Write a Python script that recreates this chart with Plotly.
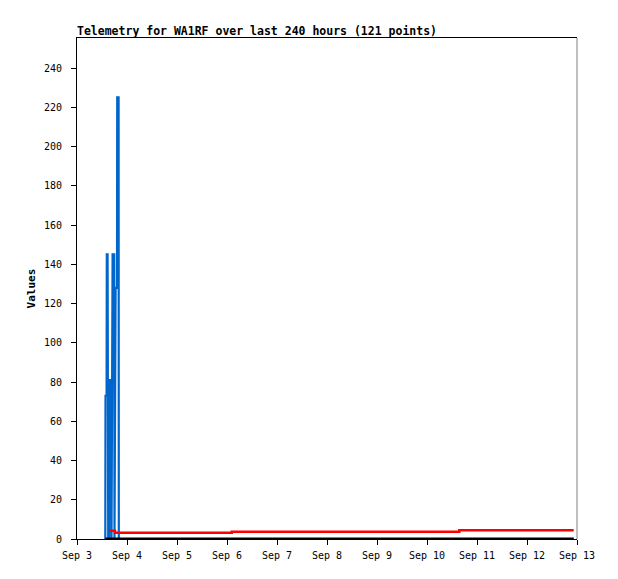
import plotly.graph_objects as go

# Blue series (spikes)
blue_times = ["2024-09-03 13:35", "2024-09-03 13:41", "2024-09-03 14:12", "2024-09-03 14:18",
              "2024-09-03 14:41", "2024-09-03 14:47", "2024-09-03 14:59", "2024-09-03 15:27",
              "2024-09-03 15:39", "2024-09-03 16:02", "2024-09-03 16:08", "2024-09-03 16:13",
              "2024-09-03 16:25", "2024-09-03 16:34", "2024-09-03 17:05", "2024-09-03 17:51",
              "2024-09-03 18:00", "2024-09-03 18:32", "2024-09-03 19:12", "2024-09-03 19:18",
              "2024-09-03 19:58", "2024-09-03 20:04", "2024-09-12 22:24"]
blue_values = [0, 73, 73, 145,
               145, 49, 0, 0,
               81, 81, 11, 72,
               72, 0, 145, 145,
               0, 128, 128, 225,
               225, 0, 0]

# Red series (steps)
red_times = ["2024-09-03 15:22", "2024-09-03 18:14", "2024-09-06 02:18",
             "2024-09-10 15:30", "2024-09-12 22:24"]
red_values = [4.2, 3.2, 3.7, 4.4, 4.4]

# Black series (near zero)
black_times = ["2024-09-03 13:40", "2024-09-12 22:24"]
black_values = [0.3, 0.3]

x_tick_vals = ["2024-09-%02d" % d for d in range(3, 14)]
x_tick_text = ["Sep %d" % d for d in range(3, 14)]
y_tick_vals = list(range(0, 241, 20))

font_family = "DejaVu Sans Mono"

fig = go.Figure()
fig.add_trace(go.Scatter(x=blue_times, y=blue_values, mode="lines",
                         line=dict(color="#0066cc", width=2.2), showlegend=False))
fig.add_trace(go.Scatter(x=red_times, y=red_values, mode="lines",
                         line=dict(color="#ff0000", width=2.5, shape="hv"), showlegend=False))
fig.add_trace(go.Scatter(x=black_times, y=black_values, mode="lines",
                         line=dict(color="#000000", width=2), showlegend=False))

fig.update_layout(
    width=618, height=579,
    margin=dict(l=69, r=49, t=30, b=48),
    paper_bgcolor="white", plot_bgcolor="white",
    font=dict(family=font_family, size=10, color="black"),
    title=dict(text="<b>Telemetry for WA1RF over last 240 hours (121 points)</b>",
               x=69/618, xanchor="left", xref="container",
               y=1 - 23/579, yanchor="middle", yref="container",
               font=dict(family=font_family, size=11.5, color="black")),
    xaxis=dict(type="date", range=["2024-09-03", "2024-09-13"],
               tickvals=x_tick_vals, ticktext=x_tick_text,
               ticks="outside", ticklen=5, tickcolor="black",
               ticklabelstandoff=2,
               showline=True, linecolor="black", linewidth=1, mirror=True,
               showgrid=False, zeroline=False,
               tickfont=dict(family=font_family, size=10)),
    yaxis=dict(range=[0, 255.3], tickvals=y_tick_vals,
               ticks="outside", ticklen=5, tickcolor="black",
               ticklabelstandoff=7,
               showline=True, linecolor="black", linewidth=1,
               showgrid=False, zeroline=False,
               title=dict(text="<b>Values</b>", standoff=6,
                          font=dict(family=font_family, size=11)),
               tickfont=dict(family=font_family, size=10)),
    shapes=[dict(type="line", xref="paper", yref="paper", x0=1, x1=1, y0=0, y1=1,
                 line=dict(color="#808080", width=1))],
)

fig.write_html("out.html")
